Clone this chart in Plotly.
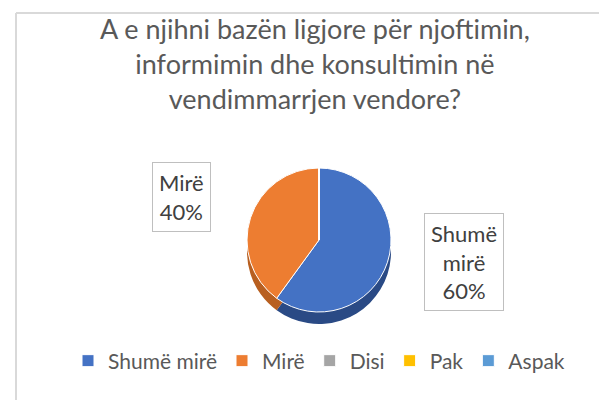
import plotly.graph_objects as go

categories = ["Shumë mirë", "Mirë", "Disi", "Pak", "Aspak"]
values = [60, 40, 0, 0, 0]
colors = ["#4472C4", "#ED7D31", "#A5A5A5", "#FFC000", "#5B9BD5"]
side_colors = ["#2A4A85", "#B85F20", "#7F7F7F", "#BF9000", "#3F75A8"]
title_text = "A e njihni bazën ligjore për njoftimin,<br>informimin dhe konsultimin në<br>vendimmarrjen vendore?"

FONT = "Lato, Open Sans, sans-serif"
W, H = 607, 400
cx, cy, r = 311, 232, 72
depth = 12

def dom(cxp, cyp):
    return dict(x=[(cxp - r) / W, (cxp + r) / W], y=[1 - (cyp + r) / H, 1 - (cyp - r) / H])

fig = go.Figure()
# side wall (shadow layer)
fig.add_trace(go.Pie(labels=categories, values=values, sort=False, direction="clockwise",
                     rotation=0, marker=dict(colors=side_colors, line=dict(color="white", width=0)),
                     textinfo="none", hoverinfo="skip", showlegend=False, domain=dom(cx, cy + depth)))
fig.add_trace(go.Pie(labels=categories, values=values, sort=False, direction="clockwise",
                     rotation=0, marker=dict(colors=colors, line=dict(color="white", width=1)),
                     textinfo="none", showlegend=True, domain=dom(cx, cy)))

total = sum(values)
label_pos = {0: (456, 254), 1: (173, 189)}
label_text = {0: "Shumë<br>mirë<br>{}%", 1: "Mirë<br>{}%"}
annotations = [dict(x=307 / W, y=1 - 2 / H, xref="paper", yref="paper",
                    xanchor="center", yanchor="top", text=title_text, showarrow=False,
                    font=dict(family=FONT, size=27, color="#595959"), align="center")]
for i, (px, py) in label_pos.items():
    pct = round(values[i] / total * 100)
    annotations.append(dict(x=px / W, y=1 - py / H, xref="paper", yref="paper",
                            xanchor="center", yanchor="middle",
                            text=label_text[i].format(pct), showarrow=False,
                            font=dict(family=FONT, size=22, color="#404040"),
                            bordercolor="#BFBFBF", borderwidth=1, borderpad=6, bgcolor="white",
                            align="center"))

fig.update_layout(
    width=W, height=H,
    margin=dict(l=0, r=0, t=0, b=0),
    paper_bgcolor="white", plot_bgcolor="white",
    legend=dict(orientation="h", x=311 / W, xanchor="center", y=1 - 353 / H, yanchor="middle",
                font=dict(family=FONT, size=21, color="#595959"),
                itemwidth=30, traceorder="normal"),
    annotations=annotations,
    shapes=[
        dict(type="line", xref="paper", yref="paper", x0=8 / W, x1=8 / W, y0=0, y1=1 - 5 / H,
             line=dict(color="#D9D9D9", width=2)),
        dict(type="line", xref="paper", yref="paper", x0=8 / W, x1=1, y0=1 - 5 / H, y1=1 - 5 / H,
             line=dict(color="#D9D9D9", width=2)),
    ],
)

fig.write_html("out.html")
